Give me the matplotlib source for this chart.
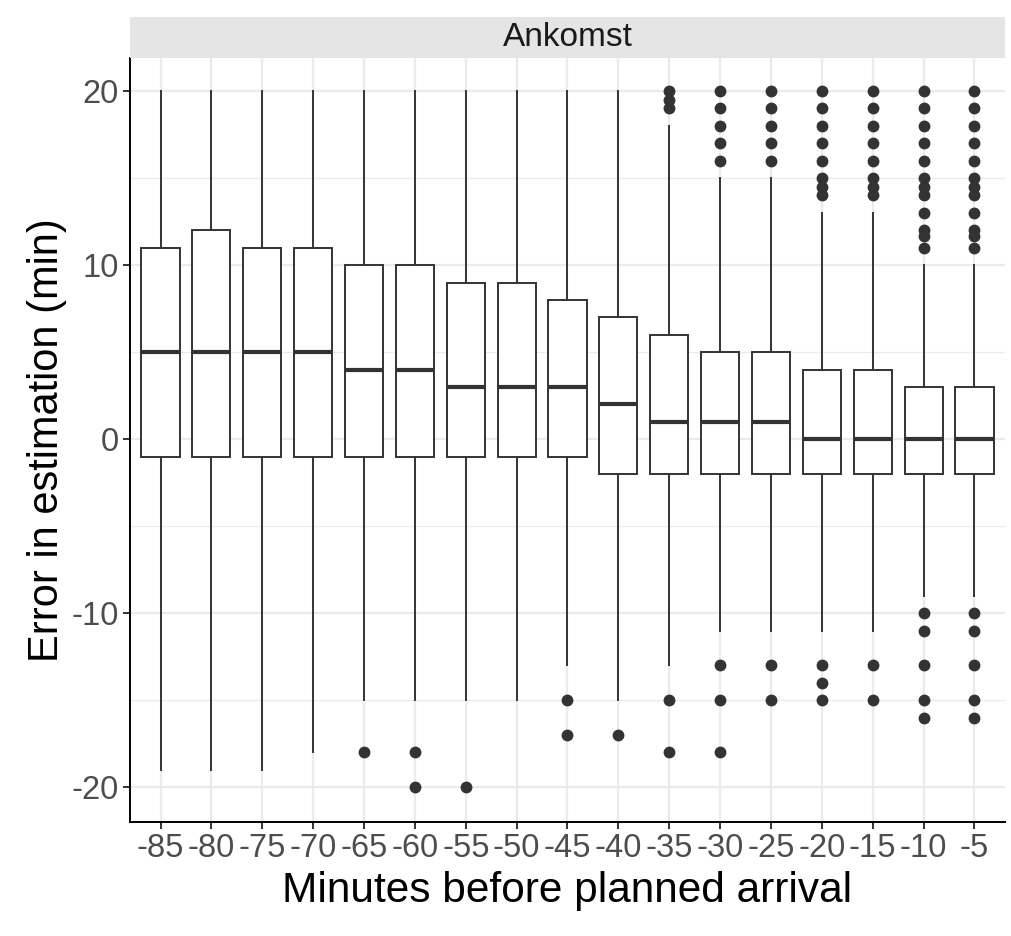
import matplotlib
matplotlib.use("Agg")
import matplotlib.pyplot as plt
from matplotlib.patches import Rectangle

plt.rcParams['font.family'] = ['Liberation Sans', 'DejaVu Sans']
plt.rcParams['axes.unicode_minus'] = False

labels = ["-85", "-80", "-75", "-70", "-65", "-60", "-55", "-50", "-45",
          "-40", "-35", "-30", "-25", "-20", "-15", "-10", "-5"]
q1 = [-1, -1, -1, -1, -1, -1, -1, -1, -1, -2, -2, -2, -2, -2, -2, -2, -2]
med = [5, 5, 5, 5, 4, 4, 3, 3, 3, 2, 1, 1, 1, 0, 0, 0, 0]
q3 = [11, 12, 11, 11, 10, 10, 9, 9, 8, 7, 6, 5, 5, 4, 4, 3, 3]
whislo = [-19, -19, -19, -18, -15, -15, -15, -15, -13, -15, -13, -11, -11, -11, -11, -9, -9]
whishi = [20, 20, 20, 20, 20, 20, 20, 20, 20, 20, 18, 15, 15, 13, 13, 10, 10]
fliers = [
    [], [], [], [],
    [-18],
    [-18, -20],
    [-20],
    [],
    [-15, -17],
    [-17],
    [20, 19.5, 19, -15, -18],
    [20, 19, 18, 17, 16, -13, -15, -18],
    [20, 19, 18, 17, 16, -13, -15],
    [20, 19, 18, 17, 16, 15, 14.5, 14, -13, -14, -15],
    [20, 19, 18, 17, 16, 15, 14.5, 14, -13, -15],
    [20, 19, 18, 17, 16, 15, 14.5, 14, 13, 12, 11.7, 11, -10, -11, -13, -15, -16],
    [20, 19, 18, 17, 16, 15, 14.5, 14, 13, 12, 11.7, 11, -10, -11, -13, -15, -16],
]
strip_label = "Ankomst"
x_title = "Minutes before planned arrival"
y_title = "Error in estimation (min)"

fig = plt.figure(figsize=(10.12, 9.36), dpi=100)
L, R = 130 / 1012, 1005 / 1012
B, T = (936 - 822) / 936, (936 - 58) / 936
ax = fig.add_axes([L, B, R - L, T - B])

stats = []
for i, lab in enumerate(labels):
    stats.append(dict(label=lab, q1=q1[i], med=med[i], q3=q3[i],
                      whislo=whislo[i], whishi=whishi[i], fliers=fliers[i]))

dark = "#333333"
positions = list(range(1, len(labels) + 1))
ax.bxp(stats, positions=positions, widths=0.75, showcaps=False, patch_artist=True,
       boxprops=dict(facecolor="white", edgecolor=dark, linewidth=1.4),
       whiskerprops=dict(color=dark, linewidth=1.4),
       medianprops=dict(color=dark, linewidth=3.0, solid_capstyle="butt"),
       flierprops=dict(marker="o", markerfacecolor=dark, markeredgecolor=dark,
                       markersize=7.5, linestyle="none"),
       zorder=3)

ax.set_xlim(0.4, 17.6)
ax.set_ylim(-22, 21.9)
ax.set_yticks([-20, -10, 0, 10, 20])
ax.set_yticks([-15, -5, 5, 15], minor=True)
ax.set_xticks(positions)
ax.set_xticklabels(labels)

ax.grid(True, which="major", color="#EBEBEB", linewidth=1.6, zorder=0)
ax.grid(True, which="minor", axis="y", color="#EBEBEB", linewidth=0.9, zorder=0)
ax.set_axisbelow(True)

for s in ["top", "right"]:
    ax.spines[s].set_visible(False)
for s in ["left", "bottom"]:
    ax.spines[s].set_color("black")
    ax.spines[s].set_linewidth(1.4)

ax.tick_params(axis="both", which="major", labelsize=23.5, labelcolor="#4D4D4D",
               color=dark, length=5, width=1.4, pad=3)
ax.tick_params(axis="both", which="minor", length=0)

ax.set_xlabel(x_title, fontsize=30.5, color="black", labelpad=5)
ax.set_ylabel(y_title, fontsize=30, color="black", labelpad=3)

# facet strip
strip_h = 41 / 936
sax = fig.add_axes([L, T, R - L, strip_h])
sax.set_xticks([])
sax.set_yticks([])
for s in sax.spines.values():
    s.set_visible(False)
sax.add_patch(Rectangle((0, 0), 1, 1, transform=sax.transAxes,
                        facecolor="#E5E5E5", edgecolor="none"))
sax.text(0.5, 0.5, strip_label, ha="center", va="center", fontsize=24,
         color="#1A1A1A", transform=sax.transAxes)

fig.savefig("out.png", dpi=100)
